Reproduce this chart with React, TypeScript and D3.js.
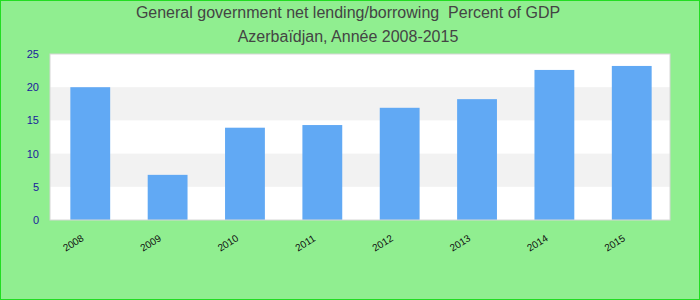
import React from "react";
import * as d3 from "d3";

const years = ["2008", "2009", "2010", "2011", "2012", "2013", "2014", "2015"];
const values = [20.0, 6.8, 13.9, 14.3, 16.9, 18.2, 22.6, 23.2];
const yTicks = [0, 5, 10, 15, 20, 25];
const titleLines = [
  "General government net lending/borrowing  Percent of GDP",
  "Azerbaïdjan, Année 2008-2015",
];

export default function App() {
  const W = 700, H = 300;
  const left = 50, right = 670, top = 54, bottom = 220;
  const x = d3.scaleBand<string>().domain(years).range([51, 671]).paddingInner(0.485).paddingOuter(0.25);
  const y = d3.scaleLinear().domain([0, 25]).range([bottom, top]);
  const bands = d3.range(0, 25, 5);
  return (
    <svg width={W} height={H} style={{ position: "absolute", left: 0, top: 0 }} fontFamily="Liberation Sans, Arial, sans-serif">
      <rect x={0.5} y={0.5} width={W - 1} height={H - 1} fill="#90EE90" stroke="#22dd22" strokeWidth={1} />
      {titleLines.map((t, i) => (
        <text key={i} x={348} y={18 + i * 24} textAnchor="middle" fontSize={16} fill="#444444" style={{ whiteSpace: "pre" }}>{t}</text>
      ))}
      <rect x={left} y={top} width={right - left} height={bottom - top} fill="#ffffff" />
      {bands.map((b, i) => i % 2 === 1 ? (
        <rect key={b} x={left} y={y(b + 5)} width={right - left} height={y(b) - y(b + 5)} fill="#f2f2f2" />
      ) : null)}
      {years.map((yr, i) => (
        <rect key={yr} x={x(yr)} y={y(values[i])} width={x.bandwidth()} height={bottom - y(values[i])} fill="#61a9f4" />
      ))}
      <rect x={left} y={top} width={right - left} height={bottom - top} fill="none" stroke="#d6d6d6" strokeWidth={1} />
      {yTicks.map((t) => (
        <text key={t} x={39} y={y(t) + 4} textAnchor="end" fontSize={11} fill="#1a1a9c">{t}</text>
      ))}
      {years.map((yr) => {
        const cx = (x(yr) as number) + x.bandwidth() / 2 - 17;
        const cy = 243;
        return (
          <text key={yr} transform={`translate(${cx},${cy}) rotate(-32)`} textAnchor="middle" dy="0.35em" fontSize={10} fill="#111">{yr}</text>
        );
      })}
    </svg>
  );
}
